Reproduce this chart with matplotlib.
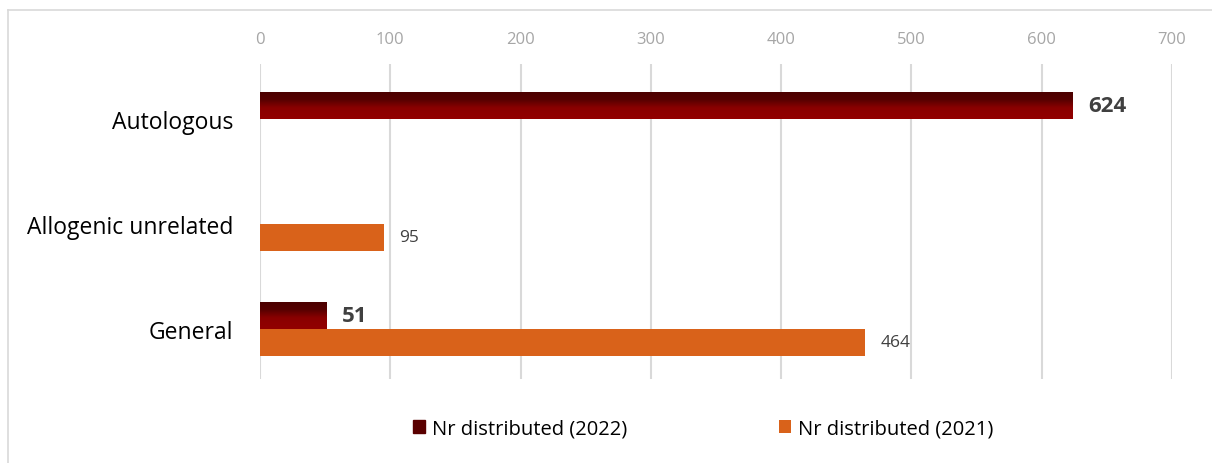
import numpy as np
import matplotlib.pyplot as plt
from matplotlib.lines import Line2D
from matplotlib.colors import LinearSegmentedColormap

categories = ["Autologous", "Allogenic unrelated", "General"]
nr_2022 = [624, 0, 51]
nr_2021 = [0, 95, 464]
x_ticks = [0, 100, 200, 300, 400, 500, 600, 700]

plt.rcParams['font.family'] = ['Open Sans', 'DejaVu Sans']

W, H = 1212, 464
fig = plt.figure(figsize=(W / 100, H / 100), dpi=100)
ax = fig.add_axes([260 / W, 84 / H, 912 / W, 315 / H])

# outer frame (only left and top edges are inside the picture)
fx, fy = 7.5 / W, 1 - 10.5 / H
fig.lines.append(Line2D([fx, fx], [0, fy], transform=fig.transFigure, color='#d9d9d9', lw=1.2))
fig.lines.append(Line2D([fx, 1], [fy, fy], transform=fig.transFigure, color='#d9d9d9', lw=1.2))

y = np.arange(len(categories))
h = 0.258
dark_cmap = LinearSegmentedColormap.from_list(
    'dr', [(0, '#4a0000'), (0.3, '#560000'), (0.6, '#8a0000'), (1, '#920000')])

bars22 = ax.barh(y - h / 2, nr_2022, height=h, color='#900000', edgecolor='none', zorder=3)
bars21 = ax.barh(y + h / 2, nr_2021, height=h, color='#d9621a', edgecolor='none', zorder=3)

# gradient fill for the 2022 bars
grad = np.linspace(0, 1, 100).reshape(-1, 1)
for b in bars22:
    if b.get_width() <= 0:
        continue
    x0, y0 = b.get_x(), b.get_y()
    im = ax.imshow(grad, cmap=dark_cmap, aspect='auto', zorder=4,
                   extent=[x0, x0 + b.get_width(), y0 + b.get_height(), y0])
    im.set_clip_path(b)

for i, v in enumerate(nr_2022):
    if v > 0:
        ax.text(v + 12, y[i] - h / 2, str(v), va='center', ha='left', fontsize=16,
                fontweight='bold', color='#404040', zorder=5)
for i, v in enumerate(nr_2021):
    if v > 0:
        ax.text(v + 12, y[i] + h / 2, str(v), va='center', ha='left', fontsize=12.5,
                color='#404040', zorder=5)

ax.set_xlim(0, 700)
ax.set_ylim(2.48, -0.52)
ax.set_xticks(x_ticks)
ax.xaxis.tick_top()
ax.tick_params(axis='x', length=0, labelsize=12, labelcolor='#a6a6a6', pad=12)
ax.set_yticks(y)
ax.set_yticklabels(categories, fontsize=16.5, color='#000000')
ax.tick_params(axis='y', length=0, pad=19)
ax.grid(axis='x', color='#d9d9d9', linewidth=1.5, zorder=0)
for s in ax.spines.values():
    s.set_visible(False)

ax.legend([bars22, bars21], ["Nr distributed (2022)", "Nr distributed (2021)"],
          loc='center', bbox_to_anchor=(0.486, -0.158), ncol=2, frameon=False,
          fontsize=14.5, handlelength=0.6, handleheight=0.6, columnspacing=7.5,
          handletextpad=0.35)
leg = ax.get_legend()
leg.legend_handles[0].set_color('#5a0000')

plt.savefig('out.png', dpi=100)
